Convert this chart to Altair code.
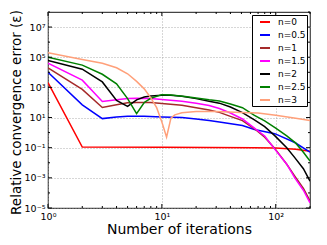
import altair as alt
import pandas as pd
import math

series_names = ["n=0", "n=0.5", "n=1", "n=1.5", "n=2", "n=2.5", "n=3"]
colors = ["#ff0000", "#0000ff", "#a52a2a", "#ff00ff", "#000000", "#008000", "#ffa07a"]

it_n0 = [1, 2, 10, 65, 100, 150, 200]
err_n0 = [2100, 0.11, 0.105, 0.1, 0.095, 0.08, 0.058]

it_n05 = [1, 2, 3, 4, 5, 7, 10, 15, 20, 26, 32, 51, 65, 98, 147, 200]
err_n05 = [1e4, 70, 8.5, 11, 12, 12, 11, 10, 8, 6.3, 5, 3, 1.6, 0.85, 0.22, 0.05]

it_n1 = [1, 2, 3, 4, 5, 6, 8, 10, 15, 20, 26, 32, 40, 51, 65, 80, 98, 125, 147, 175, 200]
err_n1 = [2e4, 740, 46, 70, 95, 100, 100, 85, 65, 45, 32, 22, 12, 6.3, 1.8, 0.5, 0.09, 0.008, 1.3e-3, 2e-4, 3e-5]

it_n15 = [1, 2, 3, 4, 5, 6, 8, 10, 15, 20, 26, 32, 40, 51, 65, 80, 98, 125, 147, 175, 200]
err_n15 = [4e4, 3000, 117, 150, 180, 190, 180, 160, 120, 90, 63, 40, 20, 8, 2, 0.6, 0.08, 0.008, 1e-3, 1.5e-4, 2.2e-5]

it_n2 = [1, 2, 3, 4, 5, 6, 7, 8, 10, 12, 15, 20, 26, 32, 40, 51, 65, 80, 98, 125, 147, 175, 200]
err_n2 = [6e4, 1.6e4, 2300, 135, 55, 150, 230, 270, 300, 300, 260, 180, 120, 90, 50, 21, 7, 2.5, 0.63, 0.1, 0.022, 0.004, 6e-4]

it_n25 = [1, 2, 3, 4, 5, 6, 7, 8, 10, 12, 16, 20, 26, 32, 40, 51, 65, 80, 100, 125, 150, 175, 200]
err_n25 = [1e5, 3e4, 7400, 1700, 180, 18, 100, 190, 330, 310, 250, 200, 150, 125, 80, 45, 14, 6, 2, 0.6, 0.2, 0.05, 0.013]

it_n3 = [1, 2, 3, 4, 5, 6, 7, 8, 9, 10, 11, 12, 13, 15, 20, 30, 50, 70, 100, 150, 200]
err_n3 = [2e5, 7e4, 4e4, 2e4, 8000, 2500, 800, 200, 45, 5, 0.5, 9, 15, 21, 25, 25, 22, 20, 14, 9, 6.3]

x_major = [1, 10, 100]
x_major_labels = ["10⁰", "10¹", "10²"]
x_minor = [2, 3, 4, 5, 6, 7, 8, 9, 20, 30, 40, 50, 60, 70, 80, 90, 200]
y_major = [1e-5, 1e-3, 1e-1, 1e1, 1e3, 1e5, 1e7]
y_major_labels = ["10⁻⁵", "10⁻³", "10⁻¹", "10¹", "10³", "10⁵", "10⁷"]
y_minor = [1e-4, 1e-2, 1, 1e2, 1e4, 1e6, 1e8]

all_its = [it_n0, it_n05, it_n1, it_n15, it_n2, it_n25, it_n3]
all_errs = [err_n0, err_n05, err_n1, err_n15, err_n2, err_n25, err_n3]
rows = []
for name, its, errs in zip(series_names, all_its, all_errs):
    for i, e in zip(its, errs):
        rows.append({"series": name, "iter": i, "err": e})
df = pd.DataFrame(rows)


def label_expr(values, labels):
    expr = "''"
    for v, lab in zip(values, labels):
        k = round(math.log10(v))
        expr = f"round(log(datum.value)/LN10) == {k} ? '{lab}' : ({expr})"
    return expr


W, H = 262, 196
x_scale = alt.Scale(type="log", domain=[1, 200], nice=False)
y_scale = alt.Scale(type="log", domain=[1e-5, 1e8], nice=False)

x_axis = alt.Axis(values=x_major, labelExpr=label_expr(x_major, x_major_labels),
                  grid=True, ticks=False, domain=False, labelFontSize=9.5,
                  labelPadding=3, titleFontSize=14, titleFontWeight="normal",
                  titleColor="black", labelColor="black",
                  titleX=W / 2, titleY=25, titleBaseline="alphabetic", titleAlign="center",
                  gridDash=[1, 2], gridColor="#999999", gridWidth=0.8,
                  labelFlush=False)
y_axis = alt.Axis(values=y_major, labelExpr=label_expr(y_major, y_major_labels),
                  grid=True, ticks=False, domain=False, labelFontSize=9.5,
                  labelPadding=3, titleFontSize=13.5, titleFontWeight="normal",
                  titleColor="black", labelColor="black",
                  titleAngle=270, titleX=-25, titleY=H / 2 + 2, titleBaseline="bottom",
                  titleAlign="center",
                  gridDash=[1, 2], gridColor="#999999", gridWidth=0.8,
                  labelFlush=False)

X_TITLE = "Number of iterations"
Y_TITLE = "Relative convergence error (ε)"

lines = alt.Chart(df).mark_line(strokeWidth=1.5, clip=True).encode(
    x=alt.X("iter:Q", scale=x_scale, title=X_TITLE, axis=x_axis),
    y=alt.Y("err:Q", scale=y_scale, title=Y_TITLE, axis=y_axis),
    color=alt.Color("series:N", scale=alt.Scale(domain=series_names, range=colors),
                    legend=alt.Legend(title=None, orient="top-right", offset=3,
                                      symbolType="stroke", symbolStrokeWidth=2,
                                      symbolSize=100, labelFontSize=9, padding=1,
                                      rowPadding=2, symbolOffset=6, labelOffset=7,
                                      fillColor="white", strokeColor="black",
                                      labelColor="black")),
    detail="series:N",
)

xmaj = pd.DataFrame({"iter": x_major})
xmin = pd.DataFrame({"iter": x_minor})
ymaj = pd.DataFrame({"err": y_major})
ymin = pd.DataFrame({"err": y_minor})


def xticks(d, size):
    base = alt.Chart(d).mark_rule(color="black", strokeWidth=1)
    enc_x = alt.X("iter:Q", scale=x_scale, title=X_TITLE, axis=x_axis)
    b = base.encode(x=enc_x, y=alt.value(H), y2=alt.value(H - size))
    t = base.encode(x=enc_x, y=alt.value(0), y2=alt.value(size))
    return [b, t]


def yticks(d, size):
    base = alt.Chart(d).mark_rule(color="black", strokeWidth=1)
    enc_y = alt.Y("err:Q", scale=y_scale, title=Y_TITLE, axis=y_axis)
    l = base.encode(y=enc_y, x=alt.value(0), x2=alt.value(size))
    r = base.encode(y=enc_y, x=alt.value(W), x2=alt.value(W - size))
    return [l, r]


layers = [lines] + xticks(xmaj, 4) + xticks(xmin, 2) + yticks(ymaj, 4) + yticks(ymin, 2)

chart = alt.layer(*layers).properties(
    width=W, height=H,
    padding={"left": 40, "top": 4, "right": 9, "bottom": 29},
    autosize="none",
).configure(font="DejaVu Sans").configure_view(stroke="#444444", strokeWidth=1.2)

chart.save("out.html", embed_options={"renderer": "svg", "actions": False})
